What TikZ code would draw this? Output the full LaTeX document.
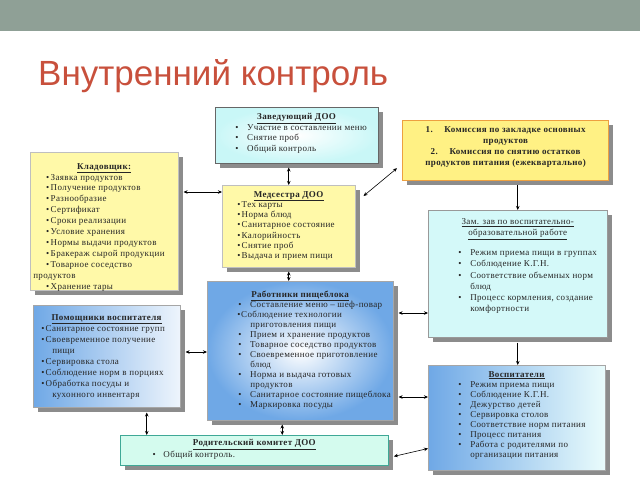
\documentclass[tikz,border=0pt]{standalone}
\usepackage{fontspec}
\setmainfont[LetterSpace=4]{Liberation Serif}
\newfontfamily\titlefont{Liberation Sans}
\usetikzlibrary{arrows.meta, positioning, calc, shadows}
\definecolor{BandGray}{HTML}{8FA096}
\definecolor{TitleRed}{HTML}{C8503C}
\definecolor{NoteYellow}{HTML}{FFF9A8}
\definecolor{DeepYellow}{HTML}{FFF184}
\definecolor{RimOrange}{HTML}{EDA040}
\definecolor{PaleCyan}{HTML}{C9F7F7}
\definecolor{SkyBlue}{HTML}{6FA8E6}
\definecolor{MintFill}{HTML}{D4FBEE}
\definecolor{MintRim}{HTML}{3FA896}
\newcommand{\inbox}[3]{\parbox[t][#2pt][t]{#1pt}{#3}}
\newcommand{\heading}[1]{{\centering\underline{\textbf{#1}}\par}}
\newcommand{\itm}[3]{\par\noindent\hspace*{#1pt}\makebox[#2pt][l]{\textbullet}\mbox{#3}\par}
\newcommand{\cnt}[2]{\noindent\hspace*{#1pt}\mbox{#2}\par}

\begin{document}
\begin{tikzpicture}[x=1pt, y=-1pt, >={Stealth[length=4pt,width=3.5pt]},
        box/.style={rectangle, anchor=north west, inner sep=0pt, line width=0.5pt, text=black!85,
            drop shadow={shadow xshift=4.5pt, shadow yshift=-4.5pt, fill=black!45, opacity=1},
            font=\fontsize{9}{10.6}\selectfont},
        yellowbox/.style={box, fill=NoteYellow, draw=black!25},
        cyanbox/.style={box, inner color=white, outer color=PaleCyan, draw=black!60},
        bluebox/.style={box, inner color=white, outer color=SkyBlue, draw=black!35},
        link/.style={<->, black, line width=0.6pt},
        arrow/.style={->, black, line width=0.6pt}]
    \useasboundingbox (0,0) rectangle (640,480);
    \fill[BandGray] (0,0) rectangle (640,31);
    \node[anchor=base west, inner sep=0pt, text=TitleRed, font=\titlefont\fontsize{35}{40}\selectfont] (title) at (38,85) {Внутренний контроль};

    \node[cyanbox] (zav) at (215,107) {\inbox{163}{56}{\vspace*{6pt}\heading{Заведующий ДОО}
        \itm{20}{12}{Участие в составлении меню}
        \itm{20}{12}{Снятие проб}
        \itm{20}{12}{Общий контроль}}};

    \node[box, fill=DeepYellow, draw=RimOrange, line width=1.2pt, font=\fontsize{9}{11}\selectfont\bfseries] (com) at (402,120)
        {\inbox{206}{60}{\vspace*{6pt}{\centering 1.\hspace{1.3em}Комиссия по закладке основных\\ продуктов\\
        2.\hspace{1.3em}Комиссия по снятию остатков\\ продуктов питания (ежеквартально)\par}}};

    \node[yellowbox, font=\fontsize{9}{10.9}\selectfont] (klad) at (30,152) {\inbox{148}{138}{\vspace*{11pt}\heading{Кладовщик:}
        \itm{16}{4.5}{Заявка продуктов}
        \itm{16}{4.5}{Получение продуктов}
        \itm{16}{4.5}{Разнообразие}
        \itm{16}{4.5}{Сертификат}
        \itm{16}{4.5}{Сроки реализации}
        \itm{16}{4.5}{Условие хранения}
        \itm{16}{4.5}{Нормы выдачи продуктов}
        \itm{16}{4.5}{Бракераж сырой продукции}
        \itm{16}{4.5}{Товарное соседство}
        \cnt{3}{продуктов}
        \itm{16}{4.5}{Хранение тары}}};

    \node[yellowbox, font=\fontsize{9}{10.2}\selectfont] (med) at (222,185) {\inbox{133}{82}{\vspace*{6pt}\heading{Медсестра ДОО}
        \itm{15}{4.5}{Тех карты}
        \itm{15}{4.5}{Норма блюд}
        \itm{15}{4.5}{Санитарное состояние}
        \itm{15}{4.5}{Калорийность}
        \itm{15}{4.5}{Снятие проб}
        \itm{15}{4.5}{Выдача и прием пищи}}};

    \node[box, fill=PaleCyan!80, draw=black!40, font=\fontsize{9}{11.2}\selectfont] (zam) at (428,210) {\inbox{179}{127}{\vspace*{8pt}%
        {\centering\underline{Зам. зав по воспитательно-}\\ \underline{образовательной работе}\par}\vspace{9pt}
        \itm{30}{12}{Режим приема пищи в группах}
        \itm{30}{12}{Соблюдение К.Г.Н.}
        \itm{30}{12}{Соответствие объемных норм}
        \cnt{42}{блюд}
        \itm{30}{12}{Процесс кормления, создание}
        \cnt{42}{комфортности}}};

    \node[box, left color=SkyBlue, right color=SkyBlue!12, draw=black!35, font=\fontsize{9}{11}\selectfont] (pom) at (33,305)
        {\inbox{147}{102}{\vspace*{9pt}\heading{Помощники воспитателя}
        \itm{8}{4.5}{Санитарное состояние групп}
        \itm{8}{4.5}{Своевременное получение}
        \cnt{19}{пищи}
        \itm{8}{4.5}{Сервировка стола}
        \itm{8}{4.5}{Соблюдение норм в порциях}
        \itm{8}{4.5}{Обработка посуды и}
        \cnt{19}{кухонного инвентаря}}};

    \node[bluebox, font=\fontsize{9}{10}\selectfont] (rab) at (207,281) {\inbox{186}{139}{\vspace*{10pt}\heading{Работники пищеблока}
        \itm{31}{12}{Составление меню – шеф-повар}
        \itm{30}{4}{Соблюдение технологии}
        \cnt{43}{приготовления пищи}
        \itm{31}{12}{Прием и хранение продуктов}
        \itm{31}{12}{Товарное соседство продуктов}
        \itm{31}{12}{Своевременное приготовление}
        \cnt{43}{блюд}
        \itm{31}{12}{Норма и выдача готовых}
        \cnt{43}{продуктов}
        \itm{31}{12}{Санитарное состояние пищеблока}
        \itm{31}{12}{Маркировка посуды}}};

    \node[box, left color=SkyBlue, right color=PaleCyan!40, draw=black!35, font=\fontsize{9}{10.1}\selectfont] (vos) at (428,365)
        {\inbox{177}{105}{\vspace*{6pt}\heading{Воспитатели}
        \itm{30}{12}{Режим приема пищи}
        \itm{30}{12}{Соблюдение К.Г.Н.}
        \itm{30}{12}{Дежурство детей}
        \itm{30}{12}{Сервировка столов}
        \itm{30}{12}{Соответствие норм питания}
        \itm{30}{12}{Процесс питания}
        \itm{30}{12}{Работа с родителями по}
        \cnt{42}{организации питания}}};

    \node[box, fill=MintFill, draw=MintRim, line width=1pt, font=\fontsize{9}{10}\selectfont] (rod) at (120,435)
        {\inbox{268}{30}{\vspace*{4pt}\heading{Родительский комитет ДОО}
        \itm{32}{11}{Общий контроль.}}};

    \coordinate (kl) at ([yshift=-7pt]med.north west);
    \coordinate (rz) at ([yshift=-32pt]rab.north east);
    \coordinate (rv) at ([yshift=-116pt]rab.north east);
    \coordinate (pr) at ([yshift=-47pt]pom.north east);
    \coordinate (pd) at ([xshift=40pt]pom.south);
    \coordinate (rd) at ([xshift=-18pt]rab.south);

    \draw[link, shorten >=4pt] (med.north) -- (med.north |- zav.south);
    \draw[link, shorten >=5pt] (kl) -- (kl -| klad.east);
    \draw[link] ([shift={(8pt,-11pt)}]med.north east) -- ([shift={(-5pt,13pt)}]com.south west);
    \draw[arrow, shorten <=4pt] (zam.north |- com.south) -- (zam.north);
    \draw[link, shorten <=4pt] (med.south) -- (med.south |- rab.north);
    \draw[link, shorten <=5pt] (rz) -- (rz -| zam.west);
    \draw[link, shorten <=5pt] (rv) -- (rv -| vos.west);
    \draw[link, shorten <=5pt] (pr) -- (pr -| rab.west);
    \draw[link, shorten <=5pt] (pd) -- (pd |- rod.north);
    \draw[link, shorten <=4pt] (rd) -- (rd |- rod.north);
    \draw[arrow, shorten <=5pt] (zam.south) -- (zam.south |- vos.north);
    \draw[link, shorten <=5pt] ([yshift=-7pt]rod.east) -- ([yshift=22pt]vos.south west);
\end{tikzpicture}
\end{document}
